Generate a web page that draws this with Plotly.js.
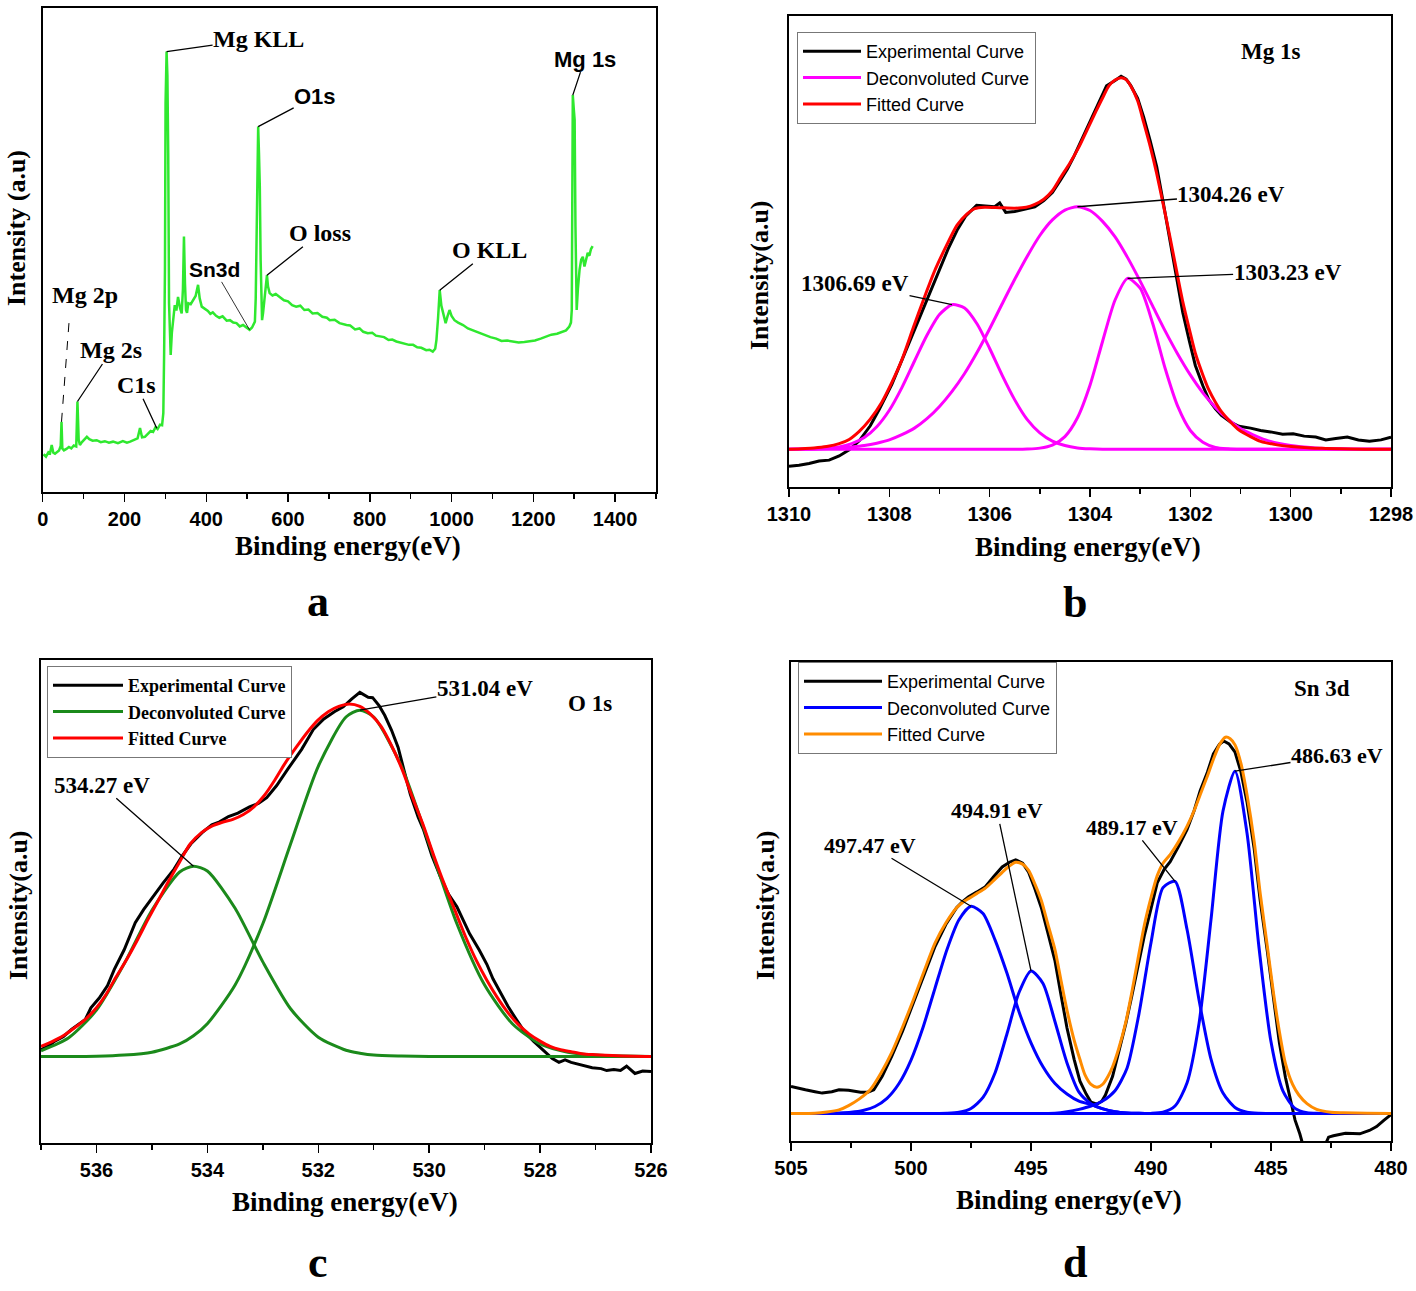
<!DOCTYPE html>
<html>
<head>
<meta charset="utf-8">
<script src="https://cdn.plot.ly/plotly-3.0.1.min.js"></script>
<style>
  html, body { margin: 0; padding: 0; background: #fff; }
  #chart { width: 1416px; height: 1291px; }
</style>
</head>
<body>
<div id="chart"></div>
<script>
// ---- panel a : survey spectrum ----
const surveyE = [2, 8, 14, 18, 22, 26, 30, 34, 40, 44, 46, 48, 52, 58, 64, 70, 76, 82, 85, 88, 91, 96, 102, 108, 114, 122, 132, 142, 152, 162, 172, 184, 196, 206, 214, 224, 232, 238, 243, 250, 258, 264, 270, 276, 281, 287, 292, 295, 297, 299, 300.5, 303, 305, 307, 309, 311, 313, 316, 318, 321, 323, 327, 331, 336, 340, 343, 345.5, 348, 350.5, 353, 356, 362, 368, 374, 380, 384, 389, 396, 404, 410, 416, 424, 432, 440, 450, 458, 466, 474, 482, 490, 498, 506, 512, 516, 519, 521, 523, 525, 527, 529, 531, 533, 535, 536.5, 539, 543, 546, 548.5, 551, 555, 562, 570, 579.5, 590, 600, 610, 620, 630, 640, 650, 660, 672, 684, 695, 702, 714, 726, 736, 743, 752, 764, 775, 784, 795, 806, 815, 824, 835, 846, 855, 865, 876, 886, 896, 906, 916, 926, 938, 946, 954, 960, 963, 967, 971, 975, 979, 982, 985.5, 990, 995, 1000, 1007, 1016, 1028, 1040, 1054, 1068, 1080, 1095, 1109, 1122, 1136, 1150, 1164, 1178, 1191, 1204, 1218, 1231, 1244, 1258, 1272, 1280, 1288, 1292, 1294, 1295.5, 1296.5, 1299, 1301, 1303, 1305, 1306, 1309, 1313, 1317, 1321, 1325, 1329, 1333, 1337, 1341, 1345];
const surveyI = [7.8, 7.3, 8.2, 8.0, 9.7, 8.1, 7.9, 8.2, 8.6, 9.5, 14.5, 9.0, 8.6, 8.9, 9.3, 9.0, 9.6, 9.4, 18.7, 10.8, 9.7, 10.3, 10.8, 11.4, 10.9, 10.6, 10.7, 10.3, 10.5, 10.2, 10.4, 10.1, 10.5, 10.2, 10.4, 10.8, 11.1, 13.2, 11.3, 11.4, 12.0, 12.6, 12.4, 13.4, 13.0, 13.9, 13.8, 16.3, 28.7, 45.9, 80.4, 91.0, 86.0, 70.0, 39.0, 30.0, 28.3, 33.0, 35.1, 37.5, 38.6, 37.5, 40.3, 38.0, 36.9, 42.0, 52.8, 43.0, 37.6, 37.0, 39.0, 38.8, 39.7, 40.5, 42.8, 40.0, 38.3, 37.9, 37.4, 36.8, 37.1, 36.4, 36.0, 36.3, 35.4, 35.5, 35.0, 34.9, 34.2, 34.5, 33.9, 33.5, 34.0, 34.6, 35.2, 40.0, 49.4, 65.0, 75.5, 70.0, 63.1, 48.0, 38.0, 35.5, 37.0, 40.3, 42.5, 44.8, 42.5, 41.1, 40.6, 40.9, 40.3, 39.6, 39.4, 38.6, 38.3, 38.5, 37.6, 37.7, 36.9, 37.0, 36.2, 36.0, 35.5, 35.6, 34.9, 34.6, 34.5, 34.4, 33.6, 33.8, 33.1, 32.8, 32.9, 32.3, 32.1, 32.0, 31.4, 31.5, 31.1, 30.9, 30.7, 30.4, 30.4, 29.9, 29.8, 29.3, 29.4, 29.0, 29.6, 31.4, 36.0, 41.7, 38.5, 36.9, 35.6, 34.9, 36.3, 37.6, 36.4, 35.5, 35.0, 34.5, 33.8, 33.3, 32.8, 32.4, 32.0, 31.7, 31.2, 31.3, 31.1, 30.9, 31.0, 31.1, 31.3, 31.7, 32.1, 32.5, 32.7, 33.1, 33.4, 34.2, 35.0, 37.6, 60.0, 82.0, 79.0, 76.9, 55.0, 40.0, 37.6, 42.0, 45.9, 48.0, 48.6, 46.6, 48.4, 49.4, 48.8, 50.2, 50.8];

// ---- panel b : Mg 1s ----
const mgExpE = [1310, 1309.8, 1309.6, 1309.4, 1309.2, 1309.0, 1308.8, 1308.6, 1308.38, 1308.2, 1307.95, 1307.75, 1307.5, 1307.26, 1307.05, 1306.83, 1306.65, 1306.48, 1306.26, 1306.1, 1305.9, 1305.8, 1305.68, 1305.5, 1305.27, 1305.1, 1304.92, 1304.75, 1304.58, 1304.45, 1304.32, 1304.2, 1304.06, 1303.85, 1303.67, 1303.5, 1303.38, 1303.28, 1303.19, 1303.05, 1302.93, 1302.8, 1302.67, 1302.55, 1302.41, 1302.28, 1302.15, 1302.02, 1301.9, 1301.75, 1301.63, 1301.5, 1301.38, 1301.2, 1301.03, 1300.8, 1300.6, 1300.4, 1300.16, 1299.95, 1299.73, 1299.5, 1299.3, 1299.1, 1298.87, 1298.65, 1298.43, 1298.2, 1298];
const mgExpI = [4.4, 4.6, 5.0, 5.5, 5.7, 6.6, 7.9, 9.8, 13.0, 16.5, 21.8, 27.0, 33.5, 39.5, 45.0, 50.5, 54.5, 57.5, 59.8, 59.6, 59.5, 60.3, 58.3, 58.5, 59.0, 59.5, 60.8, 62.5, 65.3, 67.5, 70.2, 73.0, 76.0, 81.0, 85.2, 86.3, 87.2, 86.6, 85.3, 82.5, 78.5, 73.5, 68.0, 61.0, 52.5, 44.5, 37.0, 31.0, 25.8, 21.5, 18.5, 16.6, 15.2, 13.8, 12.9, 12.5, 12.0, 11.7, 11.2, 11.3, 10.8, 10.6, 10.0, 10.3, 10.6, 10.0, 9.7, 10.0, 10.6];
const mgFitE = [1310, 1309.5, 1309.25, 1309, 1308.8, 1308.6, 1308.38, 1308.15, 1307.95, 1307.75, 1307.52, 1307.3, 1307.08, 1306.85, 1306.65, 1306.45, 1306.3, 1306.1, 1305.8, 1305.5, 1305.27, 1305.1, 1304.92, 1304.75, 1304.58, 1304.4, 1304.23, 1304.05, 1303.88, 1303.75, 1303.62, 1303.5, 1303.38, 1303.28, 1303.19, 1303.05, 1302.93, 1302.8, 1302.67, 1302.54, 1302.41, 1302.28, 1302.15, 1302.02, 1301.9, 1301.75, 1301.63, 1301.5, 1301.38, 1301.2, 1301.03, 1300.8, 1300.6, 1300.3, 1299.99, 1299.6, 1299.3, 1298.8, 1298];
const mgFitI = [8.0, 8.3, 8.6, 9.2, 10.1, 11.8, 14.4, 18.0, 22.2, 27.0, 33.9, 40.3, 46.3, 51.5, 55.6, 58.0, 59.1, 59.4, 59.3, 59.2, 59.4, 60.0, 61.1, 62.9, 65.8, 68.8, 72.0, 76.0, 79.8, 82.6, 85.2, 86.4, 86.9, 86.5, 85.2, 82.0, 77.4, 72.3, 66.5, 60.0, 53.3, 46.2, 39.3, 33.5, 28.4, 23.8, 20.6, 18.0, 16.0, 13.8, 12.1, 10.7, 9.7, 9.0, 8.6, 8.3, 8.2, 8.05, 8.0];
const mgDecE = [1310, 1309.5, 1309, 1308.75, 1308.5, 1308.25, 1308, 1307.75, 1307.5, 1307.25, 1307, 1306.75, 1306.5, 1306.25, 1306, 1305.75, 1305.5, 1305.25, 1305, 1304.75, 1304.5, 1304.25, 1304, 1303.75, 1303.5, 1303.25, 1303, 1302.75, 1302.5, 1302.25, 1302, 1301.75, 1301.5, 1301.25, 1301, 1300.5, 1300, 1299.5, 1299, 1298.5, 1298];
const mgDec1 = [8.0, 8.07, 8.5, 9.2, 10.5, 12.8, 16.3, 21.1, 26.7, 32.2, 36.6, 38.7, 38.0, 34.6, 29.4, 23.7, 18.5, 14.3, 11.5, 9.75, 8.8, 8.3, 8.1, 8.0, 8.0, 8.0, 8.0, 8.0, 8.0, 8.0, 8.0, 8.0, 8.0, 8.0, 8.0, 8.0, 8.0, 8.0, 8.0, 8.0, 8.0];
const mgDec2 = [8.0, 8.1, 8.3, 8.5, 8.8, 9.3, 10.0, 11.1, 12.5, 14.5, 17.1, 20.3, 24.1, 28.6, 33.6, 38.9, 44.1, 49.0, 53.4, 56.7, 58.8, 59.5, 58.7, 56.4, 53.1, 48.7, 43.7, 38.4, 33.1, 28.2, 23.8, 20.0, 16.9, 14.4, 12.4, 10.0, 8.8, 8.3, 8.1, 8.0, 8.0];
const mgDec3 = [8.0, 8.0, 8.0, 8.0, 8.0, 8.0, 8.0, 8.0, 8.0, 8.0, 8.0, 8.0, 8.0, 8.0, 8.0, 8.0, 8.0, 8.06, 8.25, 8.9, 10.7, 14.7, 21.6, 30.9, 39.7, 44.3, 42.2, 34.7, 25.1, 17.1, 12.0, 9.5, 8.4, 8.1, 8.0, 8.0, 8.0, 8.0, 8.0, 8.0, 8.0];
const mgPeakLabels = ['1306.69 eV', '1304.26 eV', '1303.23 eV'];

// ---- panel c : O 1s ----
const oExpE = [537, 536.85, 536.75, 536.6, 536.45, 536.3, 536.2, 536.1, 535.95, 535.8, 535.68, 535.5, 535.3, 535.15, 535.0, 534.8, 534.6, 534.45, 534.3, 534.1, 533.92, 533.78, 533.62, 533.45, 533.24, 533.08, 532.93, 532.75, 532.55, 532.3, 532.09, 531.9, 531.71, 531.55, 531.4, 531.25, 531.1, 531.02, 530.9, 530.8, 530.68, 530.56, 530.45, 530.34, 530.2, 530.1, 529.95, 529.8, 529.65, 529.5, 529.38, 529.27, 529.1, 528.96, 528.85, 528.73, 528.58, 528.43, 528.28, 528.12, 528.0, 527.89, 527.78, 527.66, 527.55, 527.44, 527.3, 527.15, 527.06, 526.9, 526.8, 526.67, 526.55, 526.44, 526.35, 526.29, 526.15, 526];
const oExpI = [19.3, 20.2, 21.1, 22.0, 23.5, 24.8, 25.6, 28.0, 30.0, 32.6, 35.9, 40.0, 45.6, 48.3, 50.7, 53.8, 56.7, 59.5, 61.9, 64.2, 65.9, 66.5, 67.6, 68.3, 69.6, 70.3, 71.5, 74.0, 77.4, 81.5, 85.6, 87.8, 89.3, 90.3, 91.9, 93.3, 92.3, 92.2, 90.5, 88.5, 85.5, 81.9, 77.0, 72.2, 67.5, 64.8, 59.5, 55.2, 51.5, 48.9, 46.0, 43.3, 40.0, 37.0, 34.0, 31.5, 28.3, 25.6, 23.0, 21.1, 19.8, 18.5, 17.5, 16.7, 17.2, 16.7, 16.3, 15.9, 15.6, 15.4, 15.0, 15.2, 15.0, 15.9, 15.1, 14.4, 14.9, 14.8];
const oFitE = [537, 536.8, 536.6, 536.4, 536.2, 536.0, 535.83, 535.65, 535.45, 535.25, 535.07, 534.9, 534.69, 534.5, 534.31, 534.1, 533.92, 533.73, 533.54, 533.35, 533.16, 532.97, 532.78, 532.6, 532.4, 532.2, 532.02, 531.82, 531.63, 531.44, 531.25, 531.05, 530.87, 530.68, 530.49, 530.3, 530.1, 529.92, 529.73, 529.53, 529.34, 529.15, 528.96, 528.77, 528.58, 528.39, 528.2, 528.0, 527.82, 527.63, 527.44, 527.25, 527.06, 526.7, 526.3, 526];
const oFitI = [20.0, 21.0, 22.2, 23.8, 25.6, 28.0, 30.7, 34.3, 38.1, 42.3, 46.3, 49.9, 54.4, 58.2, 61.9, 64.3, 65.6, 66.4, 67.0, 68.0, 69.6, 72.0, 75.2, 78.6, 81.9, 85.0, 87.4, 89.3, 90.4, 90.9, 90.4, 88.7, 86.3, 82.3, 77.4, 71.5, 65.6, 59.6, 53.7, 48.0, 42.6, 37.8, 33.7, 30.1, 27.0, 24.5, 22.6, 21.1, 20.0, 19.3, 18.9, 18.5, 18.3, 18.1, 17.95, 17.9];
const oDecE = [537, 536.5, 536, 535.5, 535, 534.5, 534.25, 534, 533.5, 533, 532.5, 532, 531.5, 531.25, 531, 530.5, 530, 529.5, 529, 528.5, 528, 527.5, 527, 526.5, 526];
const oDec1 = [19.1, 21.8, 27.5, 37.1, 48.2, 56.1, 57.3, 56.3, 48.6, 37.5, 27.8, 21.9, 19.2, 18.6, 18.2, 18.0, 17.9, 17.9, 17.9, 17.9, 17.9, 17.9, 17.9, 17.9, 17.9];
const oDec2 = [17.9, 17.9, 17.96, 18.2, 18.8, 20.5, 22.2, 24.7, 32.7, 45.4, 61.9, 78.0, 88.2, 89.6, 88.2, 78.0, 61.9, 45.4, 32.7, 24.7, 20.5, 18.8, 18.2, 18.0, 17.9];
const oPeakLabels = ['534.27 eV', '531.04 eV'];

// ---- panel d : Sn 3d ----
const snExpE = [505, 504.7, 504.4, 504.0, 503.7, 503.3, 503.0, 502.6, 502.1, 501.8, 501.55, 501.2, 500.8, 500.35, 499.9, 499.45, 499.0, 498.55, 498.1, 497.85, 497.6, 497.25, 496.9, 496.55, 496.2, 495.9, 495.64, 495.35, 495.1, 494.85, 494.57, 494.3, 494.0, 493.75, 493.5, 493.2, 492.96, 492.7, 492.5, 492.25, 492.05, 491.9, 491.6, 491.35, 491.05, 490.8, 490.55, 490.28, 490.0, 489.74, 489.45, 489.2, 488.85, 488.5, 488.2, 487.95, 487.65, 487.4, 487.15, 486.97, 486.75, 486.5, 486.25, 486.0, 485.7, 485.45, 485.15, 484.9, 484.65, 484.4, 484.2, 484.0, 483.8, 483.66, 483.3, 482.85, 482.6, 482.4, 481.9, 481.3, 480.9, 480.6, 480.3, 480];
const snExpI = [11.4, 11.0, 10.7, 10.3, 10.0, 10.3, 10.7, 10.6, 10.2, 10.2, 10.7, 13.5, 17.7, 23.0, 28.8, 34.8, 40.6, 45.2, 48.7, 50.0, 51.0, 52.0, 53.1, 55.2, 57.2, 58.2, 58.7, 58.0, 56.1, 52.8, 48.7, 43.5, 37.6, 30.5, 23.6, 17.0, 12.5, 9.8, 8.1, 7.7, 8.3, 9.6, 13.5, 18.5, 24.5, 30.3, 36.5, 42.8, 48.5, 53.9, 56.7, 58.3, 61.5, 65.0, 69.0, 73.1, 77.0, 80.8, 82.8, 83.5, 82.9, 81.2, 77.0, 70.8, 61.0, 50.2, 39.5, 29.5, 20.5, 13.3, 8.5, 4.4, 1.5, -1.0, -6.0, -2.0, 0.8, 1.1, 1.6, 1.5, 2.2, 3.0, 4.3, 5.5];
const snFitE = [505, 504, 503.5, 503, 502.6, 502.15, 501.7, 501.25, 500.8, 500.35, 499.9, 499.45, 499.0, 498.55, 498.1, 497.85, 497.6, 497.25, 496.9, 496.55, 496.2, 495.9, 495.64, 495.35, 495.1, 494.85, 494.57, 494.3, 494.0, 493.75, 493.5, 493.2, 492.96, 492.75, 492.5, 492.25, 492.0, 491.8, 491.6, 491.35, 491.05, 490.8, 490.55, 490.28, 490.0, 489.74, 489.5, 489.2, 488.85, 488.5, 488.2, 487.95, 487.65, 487.4, 487.15, 486.9, 486.7, 486.5, 486.25, 486.0, 485.7, 485.45, 485.15, 484.9, 484.65, 484.4, 484.1, 483.84, 483.5, 483.1, 482.5, 482, 481, 480];
const snFitI = [5.76, 5.8, 6.05, 6.5, 7.4, 8.8, 10.7, 14.2, 18.5, 23.8, 29.5, 35.5, 41.3, 45.5, 48.7, 49.8, 50.6, 51.7, 52.8, 54.4, 56.1, 57.4, 58.2, 57.8, 56.5, 53.8, 50.2, 45.3, 39.9, 33.5, 27.3, 21.0, 17.0, 13.8, 11.8, 11.2, 11.9, 13.4, 15.5, 19.2, 24.8, 31.0, 37.8, 45.0, 50.8, 55.4, 58.0, 59.8, 62.5, 65.7, 69.0, 72.3, 76.2, 79.7, 82.7, 84.3, 84.0, 82.7, 78.8, 72.3, 62.5, 51.7, 40.5, 31.0, 22.8, 16.2, 11.8, 9.6, 7.8, 6.6, 6.0, 5.9, 5.8, 5.76];
const snDecE = [505, 504.5, 504, 503.5, 503, 502.5, 502, 501.5, 501, 500.5, 500, 499.5, 499, 498.5, 498, 497.5, 497, 496.5, 496, 495.5, 495, 494.5, 494, 493.5, 493, 492.5, 492, 491.5, 491, 490.5, 490, 489.5, 489, 488.5, 488, 487.5, 487, 486.5, 486, 485.5, 485, 484.5, 484, 483.5, 483, 482.5, 482, 481.5, 481, 480.5, 480];
const snDec1 = [5.76, 5.76, 5.76, 5.77, 5.83, 5.98, 6.35, 7.2, 8.9, 12.0, 16.9, 23.7, 31.9, 40.0, 46.2, 49.0, 47.5, 42.0, 35.0, 27.0, 20.5, 15.5, 12.0, 9.8, 8.3, 7.6, 6.7, 6.1, 5.85, 5.78, 5.76, 5.76, 5.76, 5.76, 5.76, 5.76, 5.76, 5.76, 5.76, 5.76, 5.76, 5.76, 5.76, 5.76, 5.76, 5.76, 5.76, 5.76, 5.76, 5.76, 5.76];
const snDec2 = [5.76, 5.76, 5.76, 5.76, 5.76, 5.76, 5.76, 5.76, 5.76, 5.76, 5.76, 5.76, 5.76, 5.8, 6.0, 6.8, 9.1, 14.2, 22.4, 31.0, 35.5, 32.9, 24.9, 16.3, 10.2, 7.8, 6.7, 6.1, 5.85, 5.78, 5.76, 5.76, 5.76, 5.76, 5.76, 5.76, 5.76, 5.76, 5.76, 5.76, 5.76, 5.76, 5.76, 5.76, 5.76, 5.76, 5.76, 5.76, 5.76, 5.76, 5.76];
const snDec3 = [5.76, 5.76, 5.76, 5.76, 5.76, 5.76, 5.76, 5.76, 5.76, 5.76, 5.76, 5.76, 5.76, 5.76, 5.76, 5.76, 5.76, 5.76, 5.76, 5.76, 5.76, 5.76, 5.8, 6.1, 6.6, 7.3, 8.4, 10.5, 15.2, 26.6, 41.4, 52.9, 54.2, 44.2, 29.5, 17.1, 10.0, 7.0, 6.03, 5.8, 5.76, 5.76, 5.76, 5.76, 5.76, 5.76, 5.76, 5.76, 5.76, 5.76, 5.76];
const snDec4 = [5.76, 5.76, 5.76, 5.76, 5.76, 5.76, 5.76, 5.76, 5.76, 5.76, 5.76, 5.76, 5.76, 5.76, 5.76, 5.76, 5.76, 5.76, 5.76, 5.76, 5.76, 5.76, 5.76, 5.76, 5.76, 5.76, 5.76, 5.76, 5.76, 5.76, 5.76, 6.0, 7.3, 12.1, 24.5, 46.2, 68.9, 77.2, 64.3, 40.4, 20.7, 10.4, 6.8, 5.9, 5.76, 5.76, 5.76, 5.76, 5.76, 5.76, 5.76];
const snPeakLabels = ['497.47 eV', '494.91 eV', '489.17 eV', '486.63 eV'];

// ---------- page geometry ----------
const W = 1416, H = 1291;
const PX = x => x / W;
const PY = y => 1 - y / H;

const SERIF = '"Liberation Serif", "Times New Roman", serif';
const SANS = '"Liberation Sans", Arial, sans-serif';

function xAxis(l, r, range, dtick, minor, anchor) {
  return {
    domain: [PX(l), PX(r)], range: range, anchor: anchor,
    tickmode: 'linear', tick0: 0, dtick: dtick,
    ticks: 'outside', ticklen: 8, tickwidth: 1.5, tickcolor: '#000',
    minor: { dtick: minor, tick0: 0, ticks: 'outside', ticklen: 5, tickwidth: 1.5, tickcolor: '#000', showgrid: false },
    showline: true, linecolor: '#000', linewidth: 2, mirror: true,
    showgrid: false, zeroline: false, fixedrange: true,
    tickfont: { family: SANS, size: 20, color: '#000', weight: 'bold' }
  };
}
function yAxis(t, b, anchor) {
  return {
    domain: [PY(b), PY(t)], range: [0, 100], anchor: anchor,
    showticklabels: false, ticks: '', showline: true, linecolor: '#000',
    linewidth: 2, mirror: true, showgrid: false, zeroline: false, fixedrange: true
  };
}

function peakOf(xs, ys) {
  let k = 0;
  ys.forEach((v, i) => { if (v > ys[k]) k = i; });
  return [xs[k], ys[k]];
}
function peakIn(xs, ys, lo, hi) {
  let k = -1;
  xs.forEach((v, i) => { if (v >= lo && v <= hi && (k < 0 || ys[i] > ys[k])) k = i; });
  return [xs[k], ys[k]];
}
function valAt(xs, ys, x) {
  for (let i = 1; i < xs.length; i++) {
    if ((xs[i - 1] - x) * (xs[i] - x) <= 0) {
      const t = (x - xs[i - 1]) / (xs[i] - xs[i - 1]);
      return ys[i - 1] + t * (ys[i] - ys[i - 1]);
    }
  }
  return ys[ys.length - 1];
}

function line(x, y, xa, ya, color, name, opts) {
  return Object.assign({
    x: x, y: y, xaxis: xa, yaxis: ya, type: 'scatter', mode: 'lines', name: name,
    line: { color: color, width: 3 }, hoverinfo: 'skip'
  }, opts || {});
}
const spl = (color) => ({ color: color, width: 3, shape: 'spline', smoothing: 0.7 });

const traces = [
  line(surveyE, surveyI, 'x', 'y', '#2fe82f', 'Survey', { showlegend: false, line: { color: '#2fe82f', width: 2.5 } }),

  line(mgExpE, mgExpI, 'x2', 'y2', '#000', 'Experimental Curve', { legend: 'legend' }),
  line(mgDecE, mgDec1, 'x2', 'y2', '#ff00ff', 'Deconvoluted Curve', { legend: 'legend', legendgroup: 'mgd', line: spl('#ff00ff') }),
  line(mgDecE, mgDec2, 'x2', 'y2', '#ff00ff', 'Deconvoluted Curve', { legend: 'legend', legendgroup: 'mgd', showlegend: false, line: spl('#ff00ff') }),
  line(mgDecE, mgDec3, 'x2', 'y2', '#ff00ff', 'Deconvoluted Curve', { legend: 'legend', legendgroup: 'mgd', showlegend: false, line: spl('#ff00ff') }),
  line(mgFitE, mgFitI, 'x2', 'y2', '#ff0000', 'Fitted Curve', { legend: 'legend', line: spl('#ff0000') }),

  line(oExpE, oExpI, 'x3', 'y3', '#000', 'Experimental Curve', { legend: 'legend2' }),
  line(oDecE, oDec1, 'x3', 'y3', '#1b8a1b', 'Deconvoluted Curve', { legend: 'legend2', legendgroup: 'od', line: spl('#1b8a1b') }),
  line(oDecE, oDec2, 'x3', 'y3', '#1b8a1b', 'Deconvoluted Curve', { legend: 'legend2', legendgroup: 'od', showlegend: false, line: spl('#1b8a1b') }),
  line(oFitE, oFitI, 'x3', 'y3', '#ff0000', 'Fitted Curve', { legend: 'legend2', line: spl('#ff0000') }),

  line(snExpE, snExpI, 'x4', 'y4', '#000', 'Experimental Curve', { legend: 'legend3' }),
  line(snDecE, snDec1, 'x4', 'y4', '#0000ff', 'Deconvoluted Curve', { legend: 'legend3', legendgroup: 'snd', line: spl('#0000ff') }),
  line(snDecE, snDec2, 'x4', 'y4', '#0000ff', 'Deconvoluted Curve', { legend: 'legend3', legendgroup: 'snd', showlegend: false, line: spl('#0000ff') }),
  line(snDecE, snDec3, 'x4', 'y4', '#0000ff', 'Deconvoluted Curve', { legend: 'legend3', legendgroup: 'snd', showlegend: false, line: spl('#0000ff') }),
  line(snDecE, snDec4, 'x4', 'y4', '#0000ff', 'Deconvoluted Curve', { legend: 'legend3', legendgroup: 'snd', showlegend: false, line: spl('#0000ff') }),
  line(snFitE, snFitI, 'x4', 'y4', '#ff8c00', 'Fitted Curve', { legend: 'legend3', line: spl('#ff8c00') })
];

// ---------- annotations ----------
const fSerif = (s) => ({ family: SERIF, size: s, color: '#000', weight: 'bold' });
const fSans = (s) => ({ family: SANS, size: s, color: '#000', weight: 'bold' });
const ann = [];
function pointer(xa, ya, pt, text, ax, ay, font, w) {
  ann.push({ xref: xa, yref: ya, x: pt[0], y: pt[1], ax: ax, ay: ay, text: text,
    showarrow: true, arrowhead: 0, arrowwidth: w || 1.3, arrowcolor: '#000', standoff: 0,
    borderpad: 0, font: font });
}
function paperText(x, y, text, font, angle) {
  ann.push({ xref: 'paper', yref: 'paper', x: PX(x), y: PY(y), text: text, showarrow: false,
    xanchor: 'center', yanchor: 'middle', textangle: angle || 0, font: font });
}

// panel a labels
pointer('x', 'y', peakIn(surveyE, surveyI, 295, 310), 'Mg KLL', 92, -13, fSerif(24));
pointer('x', 'y', peakIn(surveyE, surveyI, 1290, 1305), 'Mg 1s', 12, -36, fSans(22));
pointer('x', 'y', peakIn(surveyE, surveyI, 520, 535), 'O1s', 57, -30, fSans(22));
pointer('x', 'y', peakIn(surveyE, surveyI, 540, 552), 'O loss', 53, -42, fSerif(24));
pointer('x', 'y', peakIn(surveyE, surveyI, 965, 978), 'O KLL', 50, -40, fSerif(24));
pointer('x', 'y', peakIn(surveyE, surveyI, 80, 90), 'Mg 2s', 34, -51, fSerif(24));
pointer('x', 'y', [279, valAt(surveyE, surveyI, 279)], 'C1s', -20, -43, fSerif(24));
pointer('x', 'y', [506, valAt(surveyE, surveyI, 506)], 'Sn3d', -35, -60, fSans(21), 0.8);
const mg2p = peakIn(surveyE, surveyI, 40, 50);
ann.push({ xref: 'x', yref: 'y', x: mg2p[0], y: mg2p[1], text: 'Mg 2p', showarrow: false,
  xshift: 23, yshift: 127, font: fSerif(24) });

// panel b
const mgPk = [peakOf(mgDecE, mgDec1), peakOf(mgDecE, mgDec2), peakOf(mgDecE, mgDec3)];
pointer('x2', 'y2', mgPk[0], mgPeakLabels[0], -97, -21, fSerif(23));
pointer('x2', 'y2', mgPk[1], mgPeakLabels[1], 154, -12, fSerif(23));
pointer('x2', 'y2', mgPk[2], mgPeakLabels[2], 160, -6, fSerif(23));
paperText(1270, 52, 'Mg 1s', fSerif(23));

// panel c
const oPk = [peakOf(oDecE, oDec1), peakOf(oDecE, oDec2)];
pointer('x3', 'y3', oPk[0], oPeakLabels[0], -92, -81, fSerif(23));
pointer('x3', 'y3', oPk[1], oPeakLabels[1], 125, -22, fSerif(23));
paperText(590, 703, 'O 1s', fSerif(23));

// panel d
const snPk = [peakOf(snDecE, snDec1), peakOf(snDecE, snDec2), peakOf(snDecE, snDec3), peakOf(snDecE, snDec4)];
pointer('x4', 'y4', snPk[0], snPeakLabels[0], -101, -61, fSerif(22));
pointer('x4', 'y4', snPk[1], snPeakLabels[1], -34, -160, fSerif(22));
pointer('x4', 'y4', snPk[2], snPeakLabels[2], -43, -54, fSerif(22));
pointer('x4', 'y4', snPk[3], snPeakLabels[3], 102, -16, fSerif(22));
paperText(1322, 688, 'Sn 3d', fSerif(23));

// axis titles and panel letters
paperText(348, 546, 'Binding energy(eV)', fSerif(27));
paperText(1088, 547, 'Binding energy(eV)', fSerif(27));
paperText(345, 1202, 'Binding energy(eV)', fSerif(27));
paperText(1069, 1200, 'Binding energy(eV)', fSerif(27));
paperText(16, 228, 'Intensity (a.u)', fSerif(26), -90);
paperText(760, 275, 'Intensity(a.u)', fSerif(26), -90);
paperText(18, 905, 'Intensity(a.u)', fSerif(26), -90);
paperText(765, 905, 'Intensity(a.u)', fSerif(26), -90);
paperText(318, 601, 'a', fSerif(44));
paperText(1075, 602, 'b', fSerif(44));
paperText(318, 1262, 'c', fSerif(44));
paperText(1075, 1262, 'd', fSerif(44));

// dashed leader for Mg 2p
const shapes = [{
  type: 'line', xref: 'x', yref: 'y', xsizemode: 'pixel', ysizemode: 'pixel',
  xanchor: mg2p[0], yanchor: mg2p[1], x0: 0, y0: 0, x1: 8, y1: 106,
  line: { color: '#000', width: 1, dash: 'dash' }
}];

function legendAt(x, y, font, iw) {
  return { x: PX(x), y: PY(y), xanchor: 'left', yanchor: 'top', bgcolor: '#fff',
    bordercolor: '#777', borderwidth: 1, font: font, tracegroupgap: 0, itemwidth: iw };
}

const layout = {
  width: W, height: H, margin: { l: 0, r: 0, t: 0, b: 0 },
  paper_bgcolor: '#fff', plot_bgcolor: '#fff',
  xaxis: xAxis(42.7, 656, [0, 1500], 200, 100, 'y'),
  yaxis: yAxis(8, 492, 'x'),
  xaxis2: xAxis(789, 1391, [1310, 1298], 2, 1, 'y2'),
  yaxis2: yAxis(16, 487, 'x2'),
  xaxis3: xAxis(41, 651, [537, 526], 2, 1, 'y3'),
  yaxis3: yAxis(660, 1143, 'x3'),
  xaxis4: xAxis(791, 1391, [505, 480], 5, 2.5, 'y4'),
  yaxis4: yAxis(662, 1141, 'x4'),
  legend: legendAt(797, 32, { family: SANS, size: 18, color: '#000' }, 58),
  legend2: legendAt(47, 666, { family: SERIF, size: 18, color: '#000', weight: 'bold' }, 70),
  legend3: legendAt(798, 662, { family: SANS, size: 18, color: '#000' }, 78),
  annotations: ann,
  shapes: shapes
};

Plotly.newPlot('chart', traces, layout, { staticPlot: true, displayModeBar: false });
</script>
</body>
</html>
